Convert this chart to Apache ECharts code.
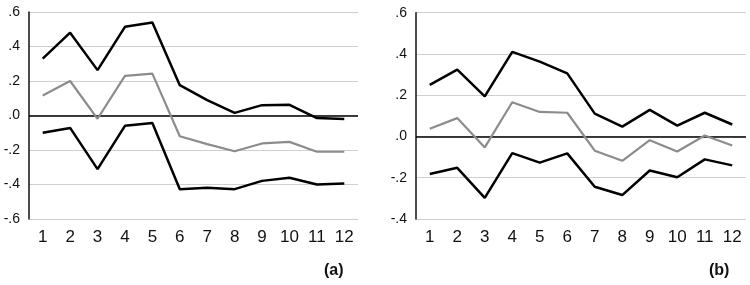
<!DOCTYPE html>
<html><head><meta charset="utf-8">
<script src="https://cdn.jsdelivr.net/npm/echarts@6/dist/echarts.min.js"></script>
<style>html,body{margin:0;padding:0;background:#fff}#c{width:750px;height:285px}</style>
</head><body><div id="c"></div>
<script>
const categories = ['1','2','3','4','5','6','7','8','9','10','11','12'];
const aUpper = [0.33,0.48,0.263,0.514,0.539,0.176,0.089,0.015,0.06,0.062,-0.015,-0.021];
const aMid   = [0.116,0.20,-0.019,0.23,0.243,-0.12,-0.166,-0.207,-0.162,-0.153,-0.21,-0.21];
const aLower = [-0.10,-0.072,-0.311,-0.06,-0.044,-0.427,-0.419,-0.427,-0.379,-0.361,-0.40,-0.394];
const bUpper = [0.25,0.324,0.194,0.41,0.363,0.306,0.111,0.048,0.129,0.053,0.115,0.058];
const bMid   = [0.037,0.089,-0.053,0.166,0.119,0.115,-0.069,-0.118,-0.018,-0.073,0.005,-0.044];
const bLower = [-0.182,-0.152,-0.298,-0.081,-0.127,-0.082,-0.244,-0.284,-0.165,-0.198,-0.111,-0.14];
const panelLabels = ['(a)','(b)'];

const font = 'Liberation Sans';
function fmt(v){ v = Math.round(v*10)/10; let s = Math.abs(v).toFixed(1).replace(/^0/,''); return (v<0?'-':'')+s; }
function xAx(i){ return {type:'category',gridIndex:i,data:categories,boundaryGap:true,
  axisLine:{show:false},axisTick:{show:false},
  axisLabel:{color:'#111',fontSize:17,fontFamily:font,margin:10}}; }
function yAx(i,min,max){ return {type:'value',gridIndex:i,min:min,max:max,interval:0.2,
  axisLine:{show:true,lineStyle:{color:'#111',width:1.5}},axisTick:{show:false},
  splitLine:{lineStyle:{color:'#cfcfcf',width:1}},
  axisLabel:{color:'#111',fontSize:14,fontFamily:font,margin:9,formatter:fmt}}; }
function ser(i,data,color,w,zero){ const s={type:'line',xAxisIndex:i,yAxisIndex:i,data:data,symbol:'none',
  lineStyle:{color:color,width:w},z:3,silent:true};
  if(zero){ s.markLine={silent:true,symbol:'none',label:{show:false},lineStyle:{color:'#000',width:1.5,type:'solid'},data:[{yAxis:0}],z:2}; }
  return s; }
const chart = echarts.init(document.getElementById('c'),null,{renderer:'canvas'});
chart.setOption({
  animation:false,
  grid:[{left:29,top:12,width:329,height:207},{left:416,top:12.7,width:330,height:206.3}],
  xAxis:[xAx(0),xAx(1)],
  yAxis:[yAx(0,-0.6,0.6),yAx(1,-0.4,0.6)],
  series:[ser(0,aMid,'#8c8c8c',2.2,true),ser(0,aUpper,'#000',2.5),ser(0,aLower,'#000',2.5),
          ser(1,bMid,'#8c8c8c',2.2,true),ser(1,bUpper,'#000',2.5),ser(1,bLower,'#000',2.5)],
  graphic:[
    {type:'text',left:324,top:263,style:{text:panelLabels[0],font:'bold 16px '+font,fill:'#111'}},
    {type:'text',left:709,top:263,style:{text:panelLabels[1],font:'bold 16px '+font,fill:'#111'}}
  ]
});
</script></body></html>
